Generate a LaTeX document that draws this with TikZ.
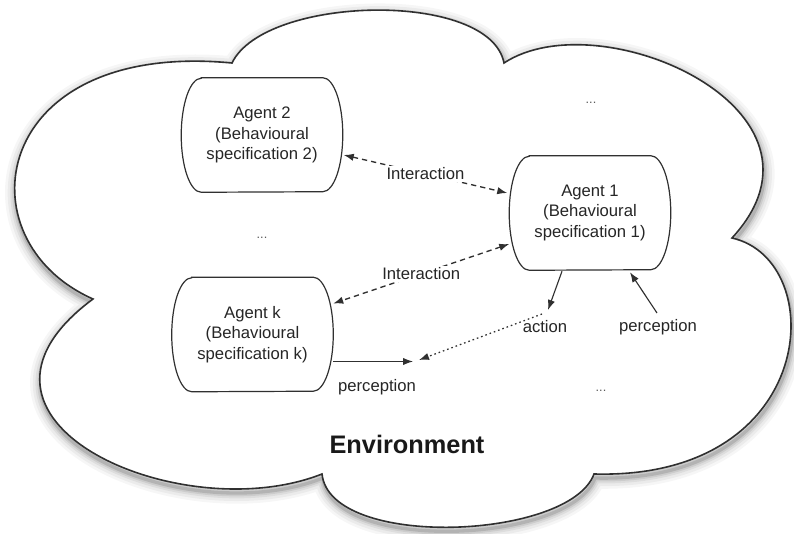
\documentclass[tikz,border=0pt]{standalone}
\usepackage{fontspec}
\setmainfont{Liberation Sans}
\usetikzlibrary{arrows.meta,calc}
\definecolor{ink}{HTML}{303030}
\definecolor{txt}{HTML}{262626}
\newcommand\cloudpath{(232,63) .. controls (265,-5) and (490,-10) .. (504,63)
  .. controls (600,0) and (850,110) .. (732,238)
  .. controls (830,260) and (820,480) .. (594,474)
  .. controls (570,540) and (330,550) .. (322,474)
  .. controls (180,530) and (-70,420) .. (93,299)
  .. controls (-40,240) and (-10,40) .. (232,63) -- cycle}
\newcommand\barrel[1]{%
  \draw[boxline] ($(#1.north west)+(20,0)$) -- ($(#1.north east)+(-20,0)$)
    arc[start angle=90,end angle=-90,x radius=15pt,y radius=42.75pt]
    -- ($(#1.south west)+(20,0)$)
    arc[start angle=270,end angle=90,x radius=15pt,y radius=42.75pt] -- cycle;}
\begin{document}
\begin{tikzpicture}[x=0.75pt,y=-0.75pt,
  agent/.style={minimum width=120.75pt,minimum height=85.5pt,inner sep=0pt,
    align=center,text=txt,font=\fontsize{12.5}{15.5}\selectfont},
  boxline/.style={ink,line width=0.9pt},
  cloudline/.style={ink,line width=1.2pt},
  lbl/.style={text=txt,font=\fontsize{12.5}{15}\selectfont,inner sep=1.5pt},
  dots/.style={text=black!65,font=\fontsize{9.5}{9.5}\selectfont,inner sep=0pt},
  dashlink/.style={ink,line width=1pt,dash pattern=on 4pt off 3pt,
    {Latex[length=7.5pt,width=5.5pt]}-{Latex[length=7.5pt,width=5.5pt]}},
  solidlink/.style={ink,line width=0.85pt,-{Latex[length=7.5pt,width=5.5pt]}},
  dotlink/.style={ink,line width=0.95pt,dash pattern=on 1.2pt off 2.2pt,
    -{Latex[length=7.5pt,width=5.5pt]}}]
\useasboundingbox (0,0) rectangle (794,534);
% cloud with soft shadow
\foreach \w/\o in {16/0.035,12/0.045,8/0.06,5/0.08,2.5/0.12}{%
  \draw[line width=\w pt,black,opacity=\o,line join=round,shift={(1,4)}] \cloudpath;}
\fill[white] \cloudpath;
\draw[cloudline] \cloudpath;
% agents
\node[agent] (a2) at (262,135) {Agent 2\\(Behavioural\\specification 2)};
\node[agent] (a1) at (590,213) {Agent 1\\(Behavioural\\specification 1)};
\node[agent] (ak) at (252.5,334.5) {Agent k\\(Behavioural\\specification k)};
\barrel{a2}\barrel{a1}\barrel{ak}
% ellipses
\node[dots] (d1) at (591,103) {...};
\node[dots] (d2) at (262,238) {...};
\node[dots] (d3) at (601,391) {...};
% interactions
\draw[dashlink] ($(a2.east)+(1,20)$) -- node[lbl,fill=white] (int1) {Interaction} ($(a1.west)+(-2,-20)$);
\draw[dashlink] ($(a1.west)+(0,31)$) -- node[lbl,fill=white] (int2) {Interaction} ($(ak.east)+(0,-31)$);
% action
\coordinate (actend) at (548,310);
\draw[solidlink] ($(a1.south)+(-28,1)$) -- (actend);
\coordinate (dotstart) at (542,314);
\coordinate (envpt) at (419,360);
\draw[dotlink] (dotstart) -- (envpt);
\node[lbl] (actlbl) at (545,327) {action};
% perception of agent 1
\node[lbl] (perc1) at (658,327) {perception};
\coordinate (percstart) at (657,313);
\draw[solidlink] (percstart) -- ($(a1.south)+(40,2)$);
% perception of agent k
\coordinate (percend) at (413,361.5);
\draw[solidlink] ($(ak.east)+(0,27)$) -- (percend);
\node[lbl] (perc2) at (377,387) {perception};
% environment
\node[font=\bfseries\fontsize{19}{22}\selectfont,text=black!90] (env) at (407,444) {Environment};
\end{tikzpicture}
\end{document}
